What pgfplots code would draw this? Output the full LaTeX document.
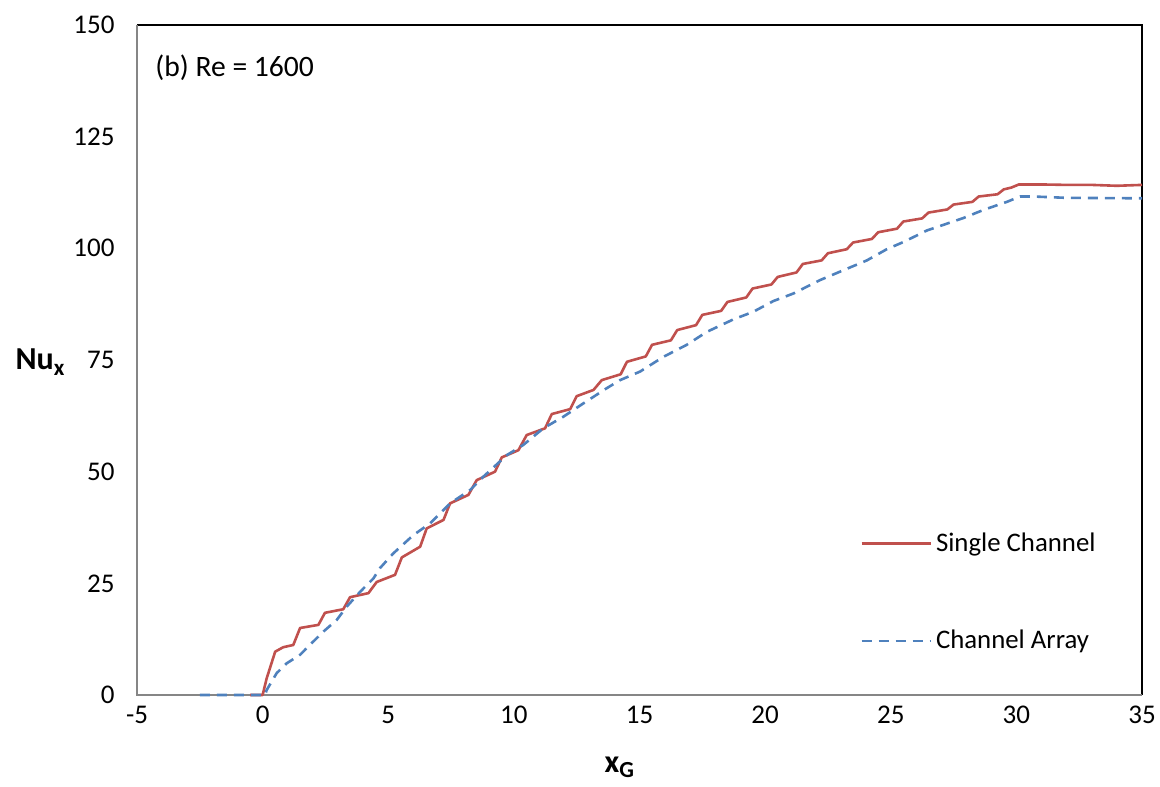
\documentclass[border=0pt]{standalone}
\usepackage{fontspec}
\setmainfont{Carlito}
\usepackage{pgfplots}
\pgfplotsset{compat=1.18}
\definecolor{redline}{HTML}{C0504D}
\definecolor{blueline}{HTML}{4F81BD}
\definecolor{axgray}{HTML}{868686}
\begin{document}
\begin{tikzpicture}
\begin{axis}[
  scale only axis, width=502.5pt, height=335pt,
  xmin=-5, xmax=35, ymin=0, ymax=150,
  xtick={-5,0,...,35}, ytick={0,25,...,150},
  major tick length=0pt,
  axis line style={draw=none},
  tick label style={font=\fontsize{13.5}{15}\selectfont},
  /pgf/number format/assume math mode=true,
  yticklabel style={xshift=-7.7pt},
  xticklabel style={yshift=-2pt},
  xlabel={\fontsize{16}{18}\selectfont\bfseries x\raisebox{-0.3ex}{\fontsize{11.5}{13}\selectfont G}},
  xlabel style={at={(rel axis cs:0.48,0)}, anchor=center, yshift=-36pt},
  ylabel={\fontsize{16}{18}\selectfont\bfseries Nu\raisebox{-0.35ex}{\fontsize{11.5}{13}\selectfont x}},
  ylabel style={rotate=-90, at={(rel axis cs:0,0.497)}, anchor=center, xshift=-48.5pt},
  legend cell align=left,
  legend image code/.code={\draw[#1] (0pt,0pt) -- (34.5pt,0pt);},
  legend style={draw=none, fill=none, inner sep=0pt, row sep=34pt,
    font=\fontsize{13.4}{15}\selectfont,
    at={(rel axis cs:0.7194,0.1537)}, anchor=west},
  clip=false,
]
\draw[black, line width=0.8pt] (rel axis cs:0,1) -- (rel axis cs:1,1) -- (rel axis cs:1,0);
\draw[axgray, line width=1.3pt] (rel axis cs:0,1) -- (rel axis cs:0,0) -- (rel axis cs:1,0);
\coordinate (o) at (rel axis cs:0,0);
\node[anchor=west, inner sep=0pt, font=\fontsize{14.8}{17}\selectfont] at ([xshift=9pt,yshift=-21.5pt]rel axis cs:0,1) {(b) Re = 1600};

\addplot[redline, line width=1.3pt, line join=round] coordinates {
(-0.5,0) (0,0) (0.16,3.7) (0.5,9.7) (0.82,10.7) (1.22,11.2) (1.49,15) (2.22,15.7)
(2.48,18.4) (3.21,19.2) (3.48,21.9) (4.21,22.8) (4.54,25.3) (5.27,26.9) (5.54,30.8)
(6.27,33.2) (6.53,37.3) (7.2,39.2) (7.46,42.9) (8.19,44.8) (8.52,48.1) (9.25,50)
(9.52,53.2) (10.18,54.8) (10.51,58.2) (11.24,59.7) (11.51,62.9) (12.24,64) (12.5,66.9)
(13.17,68.3) (13.5,70.5) (14.25,71.8) (14.5,74.6) (15.25,75.8) (15.5,78.4)
(16.25,79.4) (16.5,81.7) (17.25,82.8) (17.5,85.1) (18.25,86.0) (18.5,88.0)
(19.25,89.0) (19.5,91.0) (20.25,91.9) (20.5,93.6) (21.25,94.6) (21.5,96.5)
(22.25,97.3) (22.5,98.9) (23.25,99.8) (23.5,101.3) (24.25,102.1) (24.5,103.6)
(25.25,104.4) (25.5,106.0) (26.25,106.7) (26.5,108.0) (27.25,108.7) (27.5,109.8)
(28.25,110.4) (28.5,111.6) (29.25,112.1) (29.5,113.2) (29.8,113.6) (30.1,114.3)
(31,114.3) (32,114.2) (33,114.2) (34,114.0) (34.5,114.1) (35,114.2)
};
\addlegendentry{Single Channel}
\addplot[blueline, line width=1.3pt, dash pattern=on 5pt off 3.5pt, line join=round] coordinates {
(-2.5,0) (0.1,0) (0.16,1.1) (0.56,4.9) (0.96,7.1) (1.49,9) (1.95,11.6) (2.42,14.2)
(2.95,16.8) (3.35,19.8) (3.88,23.1) (4.41,26.1) (4.67,28.4) (5.2,31.7) (6.0,35.8)
(6.66,38.4) (7.46,42.9) (8.26,45.9) (8.79,48.9) (9.72,53.7) (10.38,56) (11.17,59.7)
(11.97,62.3) (12.77,65.3) (13.7,68.7) (14.23,70.5) (15.02,72.4) (15.95,75.7)
(16.88,78.4) (17.68,81.3) (18.74,84.1) (19.53,85.8) (20.33,88.2) (21.13,89.9)
(22.19,92.9) (22.99,94.8) (24.05,97.3) (24.84,99.8) (25.5,101.4) (26.44,104.0)
(27.9,106.8) (28.69,108.6) (29.62,110.4) (30.15,111.6) (30.68,111.6) (32,111.3) (35,111.2)
};
\addlegendentry{Channel Array}
\end{axis}
\pgfresetboundingbox
\path (o) ++(-68.5pt,-45.5pt) rectangle ++(580pt,393pt);
\end{tikzpicture}
\end{document}
